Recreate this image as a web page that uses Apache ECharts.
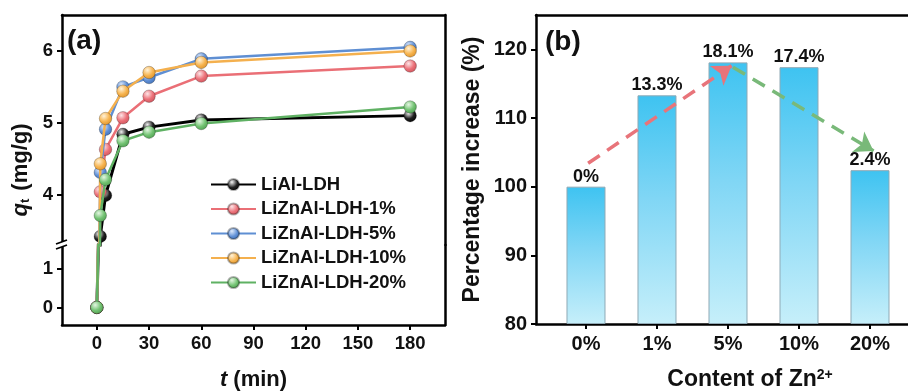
<!DOCTYPE html>
<html>
<head>
<meta charset="utf-8">
<script src="https://cdn.jsdelivr.net/npm/echarts@6/dist/echarts.min.js"></script>
<style>
  html, body { margin: 0; padding: 0; background: #ffffff; }
  #chart { width: 908px; height: 391px; }
</style>
</head>
<body>
<div id="chart"></div>
<script>
// ---- (a) adsorption kinetics: q_t versus contact time ----
const timeMin = [0, 2, 5, 15, 30, 60, 180];
const seriesNames = ['LiAl-LDH', 'LiZnAl-LDH-1%', 'LiZnAl-LDH-5%', 'LiZnAl-LDH-10%', 'LiZnAl-LDH-20%'];
const qLiAl  = [0, 3.42, 3.99, 4.84, 4.94, 5.04, 5.10];
const qZn1   = [0, 4.04, 4.63, 5.07, 5.37, 5.65, 5.79];
const qZn5   = [0, 4.31, 4.91, 5.50, 5.63, 5.89, 6.05];
const qZn10  = [0, 4.43, 5.06, 5.44, 5.70, 5.84, 6.00];
const qZn20  = [0, 3.71, 4.21, 4.75, 4.87, 4.99, 5.22];
const timeTicks = [0, 30, 60, 90, 120, 150, 180];
const qTicksUpper = [4, 5, 6];
const qTicksLower = [0, 1];

// ---- (b) percentage increase versus Zn2+ content ----
const znContent = ['0%', '1%', '5%', '10%', '20%'];
const increasePct = [0, 13.3, 18.1, 17.4, 2.4];
const pctTicks = [80, 90, 100, 110, 120];
// trend arrows, in (category index, percentage) units
const riseArrow = [[0.03, 103.4], [2.05, 117.6]];
const fallArrow = [[2.07, 117.4], [4.05, 105.2]];

// ---- layout ----
const FONT = '"Liberation Sans", Arial, sans-serif';
const A = { left: 62, width: 383, top: 15, upperH: 230, lowerH: 80 };
const B = { left: 536, width: 384, top: 15, height: 309 };
const FRAME = 2.5;

const styles = [
  { line: '#000000', base: '#202020', light: '#f4f4f4', dark: '#000000', w: 3 },
  { line: '#ea6f76', base: '#ec7179', light: '#fde4e6', dark: '#c9525a', w: 2.5 },
  { line: '#5f8fd3', base: '#6090d6', light: '#dde9fb', dark: '#3d6db3', w: 2.5 },
  { line: '#f4b04e', base: '#f7b44f', light: '#fff2d8', dark: '#d88f2a', w: 2.5 },
  { line: '#5fb163', base: '#73c373', light: '#e4f6e2', dark: '#4d9a4f', w: 2.5 }
];

function sphere(s) {
  return {
    type: 'radial', x: 0.38, y: 0.32, r: 0.75,
    colorStops: [
      { offset: 0, color: s.light },
      { offset: 0.55, color: s.base },
      { offset: 1, color: s.dark }
    ]
  };
}

const qSeries = [qLiAl, qZn1, qZn5, qZn10, qZn20];
const kineticSeries = [];
// the broken q axis is drawn as two stacked grids: upper (index 0) and lower (index 1)
[0, 1].forEach(function (part) {
  seriesNames.forEach(function (name, k) {
    kineticSeries.push({
      type: 'line',
      name: name,
      xAxisIndex: part === 0 ? 0 : 2,
      yAxisIndex: part === 0 ? 0 : 2,
      data: timeMin.map(function (t, i) { return [t, qSeries[k][i]]; }),
      symbol: 'circle',
      symbolSize: 12.5,
      clip: true,
      lineStyle: { color: styles[k].line, width: styles[k].w },
      itemStyle: { color: sphere(styles[k]), borderColor: 'rgba(0,0,0,0.3)', borderWidth: 0.8 },
      emphasis: { disabled: true },
      z: 3 + k
    });
  });
});

function lineOnlyAxis(extra) {
  return Object.assign({
    type: 'value',
    axisLine: { show: true, onZero: false, lineStyle: { color: '#000', width: FRAME } },
    axisTick: { show: false },
    axisLabel: { show: false },
    splitLine: { show: false }
  }, extra);
}

const tickStyle = { show: true, length: 5, lineStyle: { color: '#000', width: 2 } };

const breakY = A.top + A.upperH;

const option = {
  animation: false,
  backgroundColor: '#ffffff',
  textStyle: { fontFamily: FONT },
  grid: [
    { left: A.left, top: A.top, width: A.width, height: A.upperH, outerBoundsMode: 'none' },
    { left: A.left, top: breakY, width: A.width, height: A.lowerH, outerBoundsMode: 'none' },
    { left: B.left, top: B.top, width: B.width, height: B.height, outerBoundsMode: 'none' }
  ],
  xAxis: [
    { type: 'value', gridIndex: 0, min: -20, max: 200, show: false },
    lineOnlyAxis({ gridIndex: 0, position: 'top', min: -20, max: 200 }),
    {
      type: 'value', gridIndex: 1, position: 'bottom', min: -20, max: 200,
      axisLine: { show: true, onZero: false, lineStyle: { color: '#000', width: FRAME } },
      axisTick: Object.assign({ customValues: timeTicks }, tickStyle),
      axisLabel: { customValues: timeTicks, fontSize: 18.5, fontWeight: 'bold', color: '#111', margin: 9, fontFamily: FONT },
      splitLine: { show: false },
      name: '{i|t} (min)',
      nameLocation: 'middle',
      nameGap: 44,
      nameTextStyle: {
        fontSize: 22, fontWeight: 'bold', color: '#111', fontFamily: FONT,
        rich: { i: { fontSize: 22, fontWeight: 'bold', fontStyle: 'italic', color: '#111', fontFamily: FONT } }
      }
    },
    {
      type: 'value', gridIndex: 2, position: 'bottom', min: -0.704, max: 4.704,
      axisLine: { show: true, onZero: false, lineStyle: { color: '#000', width: FRAME } },
      axisTick: Object.assign({ customValues: [0, 1, 2, 3, 4] }, tickStyle),
      axisLabel: {
        customValues: [0, 1, 2, 3, 4],
        formatter: function (v) { return znContent[Math.round(v)]; },
        fontSize: 20, fontWeight: 'bold', color: '#111', margin: 10, fontFamily: FONT
      },
      splitLine: { show: false },
      name: 'Content of Zn{sup|2+}',
      nameLocation: 'middle',
      nameGap: 44,
      nameTextStyle: {
        fontSize: 23, fontWeight: 'bold', color: '#111', fontFamily: FONT,
        padding: [0, 0, 0, 44],
        rich: { sup: { fontSize: 14, fontWeight: 'bold', color: '#111', fontFamily: FONT, verticalAlign: 'top', padding: [0, 0, 10, 0] } }
      }
    },
    lineOnlyAxis({ gridIndex: 2, position: 'top', min: -0.704, max: 4.704 })
  ],
  yAxis: [
    {
      type: 'value', gridIndex: 0, position: 'left', min: 3.3, max: 6.5,
      axisLine: { show: true, onZero: false, lineStyle: { color: '#000', width: FRAME } },
      axisTick: Object.assign({ customValues: qTicksUpper }, tickStyle),
      axisLabel: { customValues: qTicksUpper, fontSize: 18.5, fontWeight: 'bold', color: '#111', margin: 9, fontFamily: FONT },
      splitLine: { show: false }
    },
    lineOnlyAxis({ gridIndex: 0, position: 'right', min: 3.3, max: 6.5 }),
    {
      type: 'value', gridIndex: 1, position: 'left', min: -0.45, max: 1.6,
      axisLine: { show: true, onZero: false, lineStyle: { color: '#000', width: FRAME } },
      axisTick: Object.assign({ customValues: qTicksLower }, tickStyle),
      axisLabel: { customValues: qTicksLower, fontSize: 18.5, fontWeight: 'bold', color: '#111', margin: 9, fontFamily: FONT },
      splitLine: { show: false }
    },
    lineOnlyAxis({ gridIndex: 1, position: 'right', min: -0.45, max: 1.6 }),
    {
      type: 'value', gridIndex: 2, position: 'left', min: 80, max: 125, startValue: 80,
      axisLine: { show: true, onZero: false, lineStyle: { color: '#000', width: FRAME } },
      axisTick: Object.assign({ customValues: pctTicks }, tickStyle),
      axisLabel: { customValues: pctTicks, fontSize: 20, fontWeight: 'bold', color: '#111', margin: 9, fontFamily: FONT },
      splitLine: { show: false },
      name: 'Percentage increase (%)',
      nameLocation: 'middle',
      nameGap: 52,
      nameTextStyle: { fontSize: 23, fontWeight: 'bold', color: '#111', fontFamily: FONT }
    }
  ],
  legend: {
    data: seriesNames,
    orient: 'vertical',
    left: 205,
    top: 170,
    padding: 5,
    itemWidth: 45,
    itemHeight: 14,
    itemGap: 5.5,
    selectedMode: false,
    textStyle: { fontSize: 18.5, fontWeight: 'bold', color: '#111', fontFamily: FONT, lineHeight: 18 }
  },
  series: kineticSeries.concat([
    {
      type: 'bar',
      name: 'increase',
      xAxisIndex: 3,
      yAxisIndex: 4,
      barWidth: 39,
      data: increasePct.map(function (d, i) { return [i, 100 + d]; }),
      itemStyle: {
        borderColor: '#8fa9b5',
        borderWidth: 1,
        color: {
          type: 'linear', x: 0, y: 0, x2: 0, y2: 1,
          colorStops: [
            { offset: 0, color: '#3ec3f1' },
            { offset: 0.45, color: '#80d6f5' },
            { offset: 1, color: '#c6effa' }
          ]
        }
      },
      label: {
        show: true,
        position: 'top',
        distance: 1,
        formatter: function (p) { return increasePct[p.dataIndex] + '%'; },
        fontSize: 18,
        fontWeight: 'bold',
        color: '#111',
        fontFamily: FONT
      },
      emphasis: { disabled: true },
      z: 2
    },
    {
      type: 'lines',
      coordinateSystem: 'cartesian2d',
      xAxisIndex: 3,
      yAxisIndex: 4,
      polyline: false,
      symbol: ['none', 'arrow'],
      symbolSize: 18,
      data: [
        { coords: riseArrow, lineStyle: { color: '#e8747a' } },
        { coords: fallArrow, lineStyle: { color: '#79b979' } }
      ],
      lineStyle: { width: 3.5, type: [14, 9], opacity: 1 },
      z: 5
    }
  ]),
  graphic: [
    // break marks on the q axis
    { type: 'rect', shape: { x: A.left - 4, y: breakY - 3, width: 8, height: 5 }, style: { fill: '#ffffff' }, z: 100 },
    { type: 'line', shape: { x1: A.left - 6, y1: breakY - 1, x2: A.left + 5, y2: breakY - 5 }, style: { stroke: '#000', lineWidth: 1.8 }, z: 101 },
    { type: 'line', shape: { x1: A.left - 6, y1: breakY + 4, x2: A.left + 5, y2: breakY }, style: { stroke: '#000', lineWidth: 1.8 }, z: 101 },
    // q_t axis title
    {
      type: 'text', x: 21, y: 170, rotation: Math.PI / 2, z: 100,
      style: {
        text: '{q|q}{t|t} (mg/g)',
        align: 'center', verticalAlign: 'middle',
        font: 'bold 22px ' + FONT,
        fill: '#111',
        rich: {
          q: { fontSize: 22, fontWeight: 'bold', fontStyle: 'italic', fill: '#111', fontFamily: FONT },
          t: { fontSize: 13, fontWeight: 'bold', fill: '#111', fontFamily: FONT, verticalAlign: 'bottom', padding: [8, 2, 0, 0] }
        }
      }
    },
    // panel labels
    { type: 'text', x: 67, y: 41, z: 100, style: { text: '(a)', font: 'bold 28px ' + FONT, fill: '#111', verticalAlign: 'middle' } },
    { type: 'text', x: 545, y: 42, z: 100, style: { text: '(b)', font: 'bold 28px ' + FONT, fill: '#111', verticalAlign: 'middle' } }
  ]
};

const chart = echarts.init(document.getElementById('chart'), null, { renderer: 'canvas' });
chart.setOption(option);
</script>
</body>
</html>
